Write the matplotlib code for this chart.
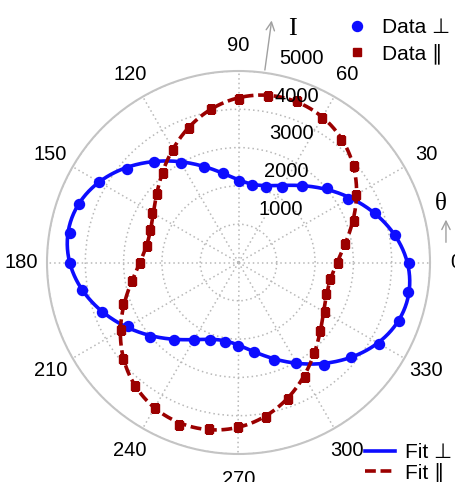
import numpy as np
import matplotlib
matplotlib.use("Agg")
import matplotlib.pyplot as plt

plt.rcParams['font.family'] = ['Liberation Sans', 'DejaVu Sans']

# ---- data ----
angles_deg = list(range(0, 360, 10))
perp_I = [4452, 4141, 3789, 3298, 3023, 2593, 2287, 2107, 2057, 2128,
          2363, 2650, 3000, 3441, 3802, 4211, 4444, 4480, 4399, 4162,
          3783, 3329, 3029, 2629, 2345, 2164, 2097, 2188, 2379, 2710,
          3026, 3491, 3841, 4240, 4449, 4491]
para_I = [2606, 2817, 3196, 3543, 3932, 4172, 4347, 4480, 4413, 4261,
          4060, 3742, 3405, 3052, 2775, 2606, 2446, 2433, 2572, 2812,
          3206, 3535, 3927, 4206, 4386, 4514, 4420, 4303, 4104, 3802,
          3452, 3070, 2778, 2598, 2423, 2433]
theta_ticks = list(range(0, 360, 30))
r_ticks = [1000, 2000, 3000, 4000, 5000]
r_max = 5000

blue = '#0d0dff'
red = '#9b0000'


def fourier_fit(th, y, th_out, harmonics=(2, 4, 6)):
    cols = [np.ones_like(th)]
    for n in harmonics:
        cols += [np.cos(n * th), np.sin(n * th)]
    A = np.column_stack(cols)
    coef, *_ = np.linalg.lstsq(A, np.asarray(y, float), rcond=None)
    cols_o = [np.ones_like(th_out)]
    for n in harmonics:
        cols_o += [np.cos(n * th_out), np.sin(n * th_out)]
    return np.column_stack(cols_o) @ coef


th = np.deg2rad(angles_deg)
th_fine = np.linspace(0, 2 * np.pi, 721)
perp_fit = fourier_fit(th, perp_I, th_fine)
para_fit = fourier_fit(th, para_I, th_fine)

fig = plt.figure(figsize=(4.55, 4.82), dpi=100)
ax = fig.add_axes([47 / 455, 28 / 482, 383 / 455, 383 / 482], projection='polar')

fit_perp, = ax.plot(th_fine, perp_fit, color=blue, lw=2.6, zorder=3, label='Fit ⊥')
dat_perp, = ax.plot(th, perp_I, 'o', color=blue, ms=7.2, zorder=4, label='Data ⊥')
fit_para, = ax.plot(th_fine, para_fit, color=red, lw=2.6, dashes=(3.0, 1.3), zorder=5, label='Fit ∥')
dat_para, = ax.plot(th, para_I, 's', color=red, ms=6.3, zorder=6, label='Data ∥')

ax.set_ylim(0, r_max)
ax.set_yticks(r_ticks)
ax.set_yticklabels([])
ax.set_thetagrids(theta_ticks, [str(t) for t in theta_ticks], fontsize=14.5)
ax.tick_params(axis='x', pad=7.8)
ax.grid(True, color='#b8b8b8', linestyle=(0, (1, 2)), linewidth=1.1)
ax.spines['polar'].set_color('#c4c4c4')
ax.spines['polar'].set_linewidth(1.5)

# radial labels
lab_ang = np.deg2rad(82.2)
for v in r_ticks:
    ax.annotate(str(v), xy=(lab_ang, v), xytext=(37.3, 14.7), textcoords='offset pixels',
                ha='center', va='center', fontsize=14.5, annotation_clip=False, zorder=7)

# axis arrows
ax.annotate('', xy=(lab_ang, 6450), xytext=(lab_ang, r_max), annotation_clip=False,
            arrowprops=dict(arrowstyle='->,head_length=0.6,head_width=0.3', color='#a0a0a0', lw=1))
ax.annotate('', xy=(np.deg2rad(12.4), 5546), xytext=(np.deg2rad(4.8), 5436), annotation_clip=False,
            arrowprops=dict(arrowstyle='->,head_length=0.6,head_width=0.3', color='#a0a0a0', lw=1))
fig.text(292.5 / 455, 1 - 29 / 482, 'I', family=['Liberation Serif', 'DejaVu Serif'],
         fontsize=19, ha='center', va='center')
fig.text(440.5 / 455, 1 - 204.5 / 482, 'θ', family=['Liberation Serif', 'DejaVu Serif'],
         fontsize=18, ha='center', va='center')

fs = 15
em = fs * 100 / 72
leg1 = fig.legend(handles=[dat_perp, dat_para], loc='upper left',
                  bbox_to_anchor=((357 - em / 2) / 455, 1 - 18 / 482), frameon=False,
                  fontsize=fs, handlelength=1.0, handletextpad=0.70, borderpad=0,
                  borderaxespad=0, labelspacing=0.31)
leg2 = fig.legend(handles=[fit_perp, fit_para], loc='upper left',
                  bbox_to_anchor=(365 / 455, 1 - 443.5 / 482), frameon=False,
                  fontsize=fs, handlelength=1.44, handletextpad=0.48, borderpad=0,
                  borderaxespad=0, labelspacing=-0.03)

fig.savefig('out.png', dpi=100)
